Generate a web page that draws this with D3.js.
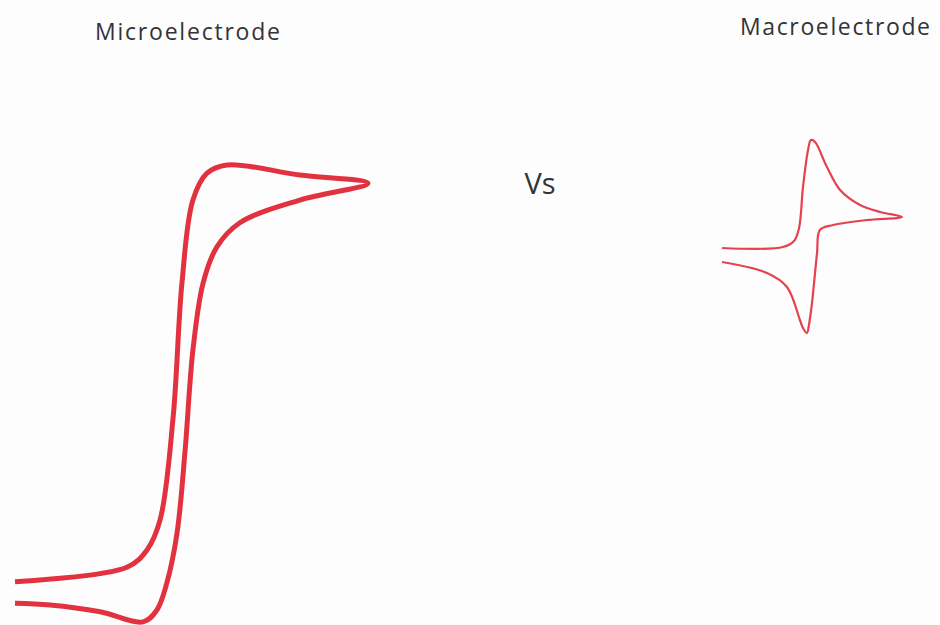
<!DOCTYPE html>
<html><head><meta charset="utf-8">
<script src="https://cdn.jsdelivr.net/npm/d3@7"></script>
<style>html,body{margin:0;padding:0;background:#fdfdfe;}svg{display:block;}</style>
</head><body>
<svg id="chart" width="940" height="625"></svg>
<script>
// Microelectrode CV (normalized potential E, normalized current I)
const microForwardE = [0, 0.317, 0.374, 0.411, 0.448, 0.473, 0.504, 0.544, 0.601, 0.807, 1.0];
const microForwardI = [0.084, 0.116, 0.154, 0.220, 0.446, 0.741, 0.923, 0.982, 1.0, 0.978, 0.960];
const microReverseE = [1.0, 0.807, 0.637, 0.572, 0.533, 0.504, 0.482, 0.459, 0.430, 0.402, 0.363, 0.241, 0.099, 0];
const microReverseI = [0.960, 0.923, 0.873, 0.820, 0.741, 0.593, 0.374, 0.191, 0.081, 0.022, -0.004, 0.018, 0.033, 0.037];

// Macroelectrode CV
const macroForwardE = [0, 0.339, 0.40, 0.428, 0.45, 0.478, 0.494, 0.517, 0.583, 0.656, 0.767, 0.878, 1.0];
const macroForwardI = [-0.08, -0.07, -0.01, 0.12, 0.53, 0.90, 1.0, 0.98, 0.73, 0.50, 0.35, 0.28, 0.23];
const macroReverseE = [1.0, 0.806, 0.617, 0.544, 0.528, 0.5, 0.483, 0.472, 0.45, 0.433, 0.361, 0.25, 0];
const macroReverseI = [0.23, 0.20, 0.15, 0.10, -0.13, -0.63, -0.85, -0.93, -0.88, -0.80, -0.47, -0.33, -0.22];

const labels = ["Microelectrode", "Vs", "Macroelectrode"];

const svg = d3.select("#chart");

const zip = (E, I) => E.map((e, i) => [e, I[i]]);

// Micro scales
const mx = d3.scaleLinear().domain([0, 1]).range([15, 368]);
const my = d3.scaleLinear().domain([0, 1]).range([620, 165]);
const microLine = d3.line().x(d => mx(d[0])).y(d => my(d[1])).curve(d3.curveCatmullRom.alpha(0.5));
const microData = zip(microForwardE, microForwardI).concat(zip(microReverseE, microReverseI).slice(1));
svg.append("path").attr("d", microLine(microData))
  .attr("fill", "none").attr("stroke", "#e2323f").attr("stroke-width", 5)
  .attr("stroke-linejoin", "miter").attr("stroke-linecap", "butt");

// Macro scales
const Mx = d3.scaleLinear().domain([0, 1]).range([722, 902]);
const My = d3.scaleLinear().domain([-1, 1]).range([340, 140]);
const macroLine = d3.line().x(d => Mx(d[0])).y(d => My(d[1])).curve(d3.curveCatmullRom.alpha(0.5));
const macroData = zip(macroForwardE, macroForwardI).concat(zip(macroReverseE, macroReverseI).slice(1));
svg.append("path").attr("d", macroLine(macroData))
  .attr("fill", "none").attr("stroke", "#e6414f").attr("stroke-width", 2.2)
  .attr("stroke-linejoin", "miter").attr("stroke-linecap", "butt");

// Labels
const font = "'Open Sans', sans-serif";
svg.append("text").attr("x", 95).attr("y", 40).attr("text-anchor", "start")
  .attr("font-family", font).attr("font-size", 23).attr("fill", "#333338")
  .attr("textLength", 185).attr("lengthAdjust", "spacing").text(labels[0]);
svg.append("text").attr("x", 540).attr("y", 194).attr("text-anchor", "middle")
  .attr("font-family", font).attr("font-size", 29).attr("fill", "#333338").text(labels[1]);
svg.append("text").attr("x", 740).attr("y", 35).attr("text-anchor", "start")
  .attr("font-family", font).attr("font-size", 23).attr("fill", "#333338")
  .attr("textLength", 190).attr("lengthAdjust", "spacing").text(labels[2]);
</script>
</body></html>
